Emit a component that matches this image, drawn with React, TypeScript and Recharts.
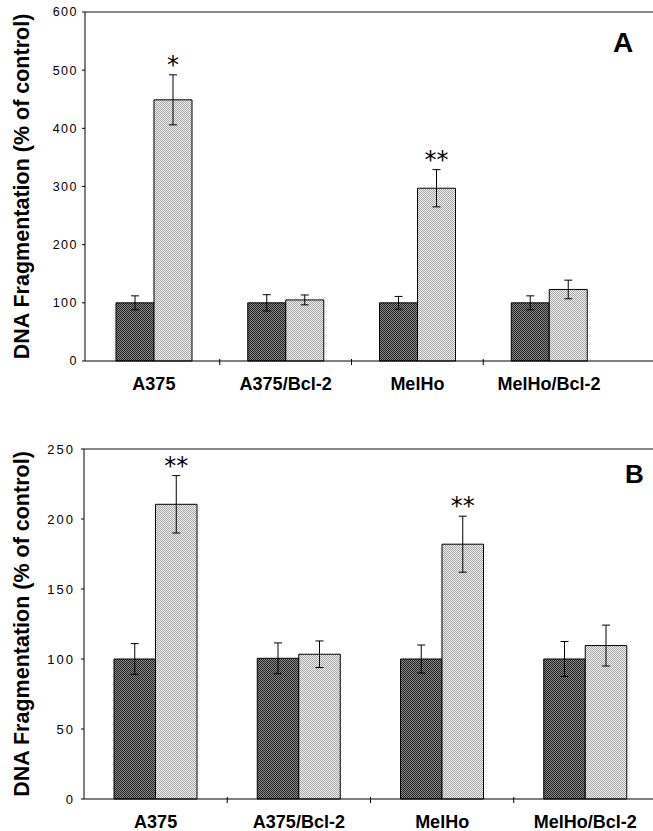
import React from 'react';
import { BarChart, Bar, XAxis, YAxis, ErrorBar, LabelList, ReferenceLine, Label } from 'recharts';

const categories = ['A375', 'A375/Bcl-2', 'MelHo', 'MelHo/Bcl-2'];

const aControl = [100, 100, 100, 100];
const aControlErr = [12, 14, 11, 12];
const aTreated = [449, 105, 297, 123];
const aTreatedErr = [43, 8.5, 32, 16];
const aSig = ['*', '', '**', ''];
const aTicks = [0, 100, 200, 300, 400, 500, 600];

const bControl = [100, 100.5, 100, 100];
const bControlErr = [11, 11, 10, 12.5];
const bTreated = [210.5, 103.4, 182, 109.6];
const bTreatedErr = [20.5, 9.5, 20, 14.6];
const bSig = ['**', '', '**', ''];
const bTicks = [0, 50, 100, 150, 200, 250];

const yLabel = 'DNA Fragmentation (% of control)';

const buildData = (ctrl: number[], ctrlErr: number[], trt: number[], trtErr: number[], sig: string[]) =>
  categories.map((c, i) => ({
    name: c,
    control: ctrl[i],
    controlErr: ctrlErr[i],
    treated: trt[i],
    treatedErr: trtErr[i],
    sig: sig[i],
  }));

const dataA = buildData(aControl, aControlErr, aTreated, aTreatedErr, aSig);
const dataB = buildData(bControl, bControlErr, bTreated, bTreatedErr, bSig);

const SANS = '"Liberation Sans", Arial, Helvetica, sans-serif';

const CatTick = (props: any) => {
  const { x, y, payload, index } = props;
  const off = payload && payload.offset != null ? payload.offset : 0;
  return (
    <g>
      {index < categories.length - 1 && off > 0 ? (
        <line x1={x + off} x2={x + off} y1={y - 2} y2={y + 4} stroke="#000" strokeWidth={1} />
      ) : null}
      <text
        x={x}
        y={y + 23}
        textAnchor="middle"
        dominantBaseline="central"
        fontFamily={SANS}
        fontWeight="bold"
        fontSize={18}
        fill="#000"
      >
        {payload.value}
      </text>
    </g>
  );
};

const makeSig = (vals: number[], errs: number[]) => (p: any) => {
  const vb = p.viewBox || p;
  const x = vb.x != null ? vb.x : p.x;
  const y = vb.y != null ? vb.y : p.y;
  const width = vb.width != null ? vb.width : p.width;
  const height = vb.height != null ? vb.height : p.height;
  const index = p.index;
  const value = p.value;
  if (!value) return null;
  const errPx = (errs[index] * Math.abs(height)) / vals[index];
  return (
    <text
      x={x + width / 2}
      y={y - errPx - 2}
      textAnchor="middle"
      fontFamily='"DejaVu Sans", sans-serif'
      fontSize={24}
      fill="#000"
    >
      {value}
    </text>
  );
};

const yLabelContent = (p: any) => {
  const vb = p.viewBox || {};
  const cy = vb.y + vb.height / 2;
  return (
    <text
      transform={`translate(22, ${cy}) rotate(-90)`}
      textAnchor="middle"
      dominantBaseline="central"
      fontFamily={SANS}
      fontWeight="bold"
      fontSize={21.5}
      fill="#000"
    >
      {yLabel}
    </text>
  );
};

const Patterns = ({ id }: { id: string }) => (
  <defs>
    <pattern id={`dark-${id}`} width={2} height={2} patternUnits="userSpaceOnUse">
      <rect width={2} height={2} fill="#8e8e8e" />
      <rect x={0} y={0} width={1} height={1} fill="#1e1e1e" />
      <rect x={1} y={1} width={1} height={1} fill="#1e1e1e" />
    </pattern>
    <pattern id={`light-${id}`} width={2} height={2} patternUnits="userSpaceOnUse">
      <rect width={2} height={2} fill="#f2f2f2" />
      <rect x={0} y={0} width={1} height={1} fill="#a4a4a4" />
      <rect x={1} y={1} width={1} height={1} fill="#a4a4a4" />
    </pattern>
  </defs>
);

export default function App() {
  return (
    <div
      style={{
        position: 'absolute',
        left: 0,
        top: 0,
        width: 653,
        height: 831,
        overflow: 'hidden',
        background: '#fff',
      }}
    >
      <div style={{ position: 'absolute', left: 0, top: 0 }}>
        <BarChart
          width={653}
          height={410}
          data={dataA}
          margin={{ top: 12, right: 0, bottom: 9, left: 0 }}
          barGap={0}
          barSize={38}
        >
          <Patterns id="a" />
          <XAxis
            dataKey="name"
            height={40}
            padding={{ left: 3, right: 38 }}
            axisLine={{ stroke: '#000', strokeWidth: 1 }}
            tickLine={false}
            tickSize={0}
            tickMargin={0}
            interval={0}
            tick={<CatTick />}
          />
          <YAxis
            width={85}
            domain={[0, 600]}
            ticks={aTicks}
            interval={0}
            axisLine={{ stroke: '#000', strokeWidth: 1 }}
            tickLine={{ stroke: '#000', strokeWidth: 1 }}
            tickSize={3}
            tickMargin={4}
            tick={{ fontFamily: SANS, fontSize: 12.5, fill: '#000', letterSpacing: 1.5 }}
          >
            <Label content={yLabelContent} />
          </YAxis>
          <ReferenceLine y={600} stroke="#111" strokeWidth={1} />
          <Bar dataKey="control" fill="url(#dark-a)" stroke="#000" strokeWidth={1} isAnimationActive={false}>
            <ErrorBar dataKey="controlErr" width={4} stroke="#000" strokeWidth={1} />
          </Bar>
          <Bar dataKey="treated" fill="url(#light-a)" stroke="#000" strokeWidth={1} isAnimationActive={false}>
            <ErrorBar dataKey="treatedErr" width={4} stroke="#000" strokeWidth={1} />
            <LabelList dataKey="sig" content={makeSig(aTreated, aTreatedErr)} />
          </Bar>
        </BarChart>
      </div>
      <div
        style={{
          position: 'absolute',
          left: 613,
          top: 29,
          fontFamily: SANS,
          fontWeight: 'bold',
          fontSize: 28,
          lineHeight: '28px',
          color: '#000',
        }}
      >
        A
      </div>

      <div style={{ position: 'absolute', left: 0, top: 420 }}>
        <BarChart
          width={657}
          height={411}
          data={dataB}
          margin={{ top: 29, right: 0, bottom: 2, left: 0 }}
          barGap={0}
          barSize={41.5}
        >
          <Patterns id="b" />
          <XAxis
            dataKey="name"
            height={30}
            padding={{ left: 0, right: 0 }}
            axisLine={{ stroke: '#000', strokeWidth: 1 }}
            tickLine={false}
            tickSize={0}
            tickMargin={0}
            interval={0}
            tick={<CatTick />}
          />
          <YAxis
            width={84}
            domain={[0, 250]}
            ticks={bTicks}
            interval={0}
            axisLine={{ stroke: '#000', strokeWidth: 1 }}
            tickLine={{ stroke: '#000', strokeWidth: 1 }}
            tickSize={3}
            tickMargin={6}
            tick={{ fontFamily: SANS, fontSize: 13, fill: '#000', letterSpacing: 2 }}
          >
            <Label content={yLabelContent} />
          </YAxis>
          <ReferenceLine y={250} stroke="#111" strokeWidth={1} />
          <Bar dataKey="control" fill="url(#dark-b)" stroke="#000" strokeWidth={1} isAnimationActive={false}>
            <ErrorBar dataKey="controlErr" width={4} stroke="#000" strokeWidth={1} />
          </Bar>
          <Bar dataKey="treated" fill="url(#light-b)" stroke="#000" strokeWidth={1} isAnimationActive={false}>
            <ErrorBar dataKey="treatedErr" width={4} stroke="#000" strokeWidth={1} />
            <LabelList dataKey="sig" content={makeSig(bTreated, bTreatedErr)} />
          </Bar>
        </BarChart>
      </div>
      <div
        style={{
          position: 'absolute',
          left: 625,
          top: 461,
          fontFamily: SANS,
          fontWeight: 'bold',
          fontSize: 26,
          lineHeight: '26px',
          color: '#000',
        }}
      >
        B
      </div>
    </div>
  );
}
